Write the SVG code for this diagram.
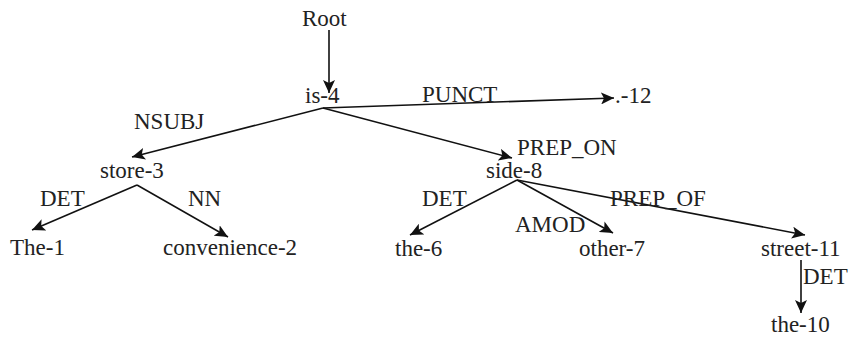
<svg xmlns="http://www.w3.org/2000/svg" width="852" height="337" viewBox="0 0 852 337">
<style>
text{font-family:"Liberation Serif","DejaVu Serif",serif;font-size:23px;fill:#222}
.e{stroke:#111;stroke-width:1.6;fill:none;marker-end:url(#ah)}
</style>
<defs>
<marker id="ah" markerUnits="userSpaceOnUse" markerWidth="14" markerHeight="12" refX="13" refY="6" orient="auto">
<path d="M0,0 L13,6 L0,12 L3,6 z" fill="#111"/>
</marker>
</defs>
<rect width="852" height="337" fill="#fff"/>
<g id="connectors">
<line class="e" x1="329" y1="30" x2="329" y2="93"/>
<line class="e" x1="323" y1="108" x2="614" y2="98"/>
<line class="e" x1="323" y1="108" x2="132" y2="157"/>
<line class="e" x1="323" y1="108" x2="512" y2="158"/>
<line class="e" x1="137" y1="185" x2="32" y2="230"/>
<line class="e" x1="137" y1="185" x2="228" y2="237"/>
<line class="e" x1="517" y1="180" x2="410" y2="235"/>
<line class="e" x1="517" y1="180" x2="613" y2="233"/>
<line class="e" x1="517" y1="180" x2="805" y2="235"/>
<line class="e" x1="801" y1="260" x2="801" y2="313"/>
<text x="422" y="102">PUNCT</text>
<text x="134" y="129">NSUBJ</text>
<text x="517" y="155">PREP_ON</text>
<text x="40" y="206">DET</text>
<text x="188" y="206">NN</text>
<text x="422" y="206">DET</text>
<text x="515" y="232">AMOD</text>
<text x="610" y="206">PREP_OF</text>
<text x="803" y="284">DET</text>
</g>
<g id="root"><text x="302" y="26">Root</text></g>
<g id="is-4"><text x="305" y="103">is-4</text></g>
<g id="punct-12"><text x="615" y="103">.-12</text></g>
<g id="store-3"><text x="100" y="178">store-3</text></g>
<g id="side-8"><text x="486" y="178">side-8</text></g>
<g id="the-1"><text x="10" y="255">The-1</text></g>
<g id="convenience-2"><text x="163" y="255">convenience-2</text></g>
<g id="the-6"><text x="395" y="256">the-6</text></g>
<g id="other-7"><text x="579" y="256">other-7</text></g>
<g id="street-11"><text x="761" y="256">street-11</text></g>
<g id="the-10"><text x="771" y="332">the-10</text></g>
</svg>
